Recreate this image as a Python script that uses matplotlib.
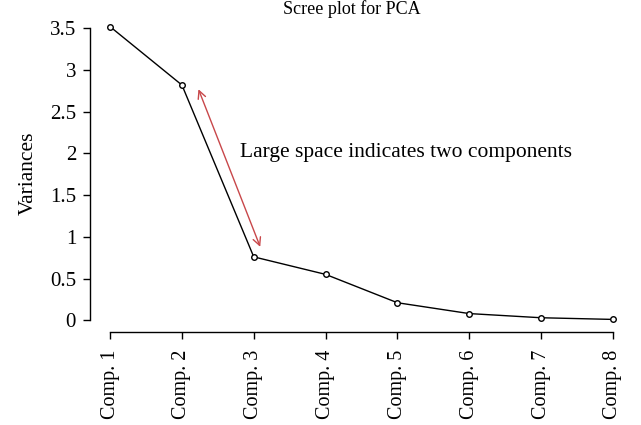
import matplotlib.pyplot as plt

components = ['Comp. 1', 'Comp. 2', 'Comp. 3', 'Comp. 4',
              'Comp. 5', 'Comp. 6', 'Comp. 7', 'Comp. 8']
variances = [3.52, 2.82, 0.76, 0.55, 0.21, 0.08, 0.03, 0.01]
yticks = [0, 0.5, 1, 1.5, 2, 2.5, 3, 3.5]
ytick_labels = ['0', '0.5', '1', '1.5', '2', '2.5', '3', '3.5']

plt.rcParams['font.family'] = ['Liberation Serif', 'DejaVu Serif']

fig = plt.figure(figsize=(6.41, 4.25), dpi=100)
ax = fig.add_axes([0.1404, 0.2188, 0.8471, 0.7459])

x = list(range(1, len(components) + 1))
ax.plot(x, variances, color='black', lw=1.0, marker='o', markersize=4,
        markerfacecolor='white', markeredgecolor='black', markeredgewidth=1.0)

# R-style detached axes
ax.set_xlim(0.72, 8.28)
ax.set_ylim(-0.141, 3.66)
for side in ['top', 'right']:
    ax.spines[side].set_visible(False)
ax.spines['left'].set_bounds(0, 3.5)
ax.spines['bottom'].set_bounds(1, 8)
ax.spines['left'].set_linewidth(1.0)
ax.spines['bottom'].set_linewidth(1.0)

ax.set_yticks(yticks)
ax.set_yticklabels(ytick_labels, fontsize=15)
ax.set_xticks(x)
ax.set_xticklabels(components, rotation=90, fontsize=14.5)
ax.tick_params(length=5, width=1.0, colors='black')
ax.tick_params(axis='y', pad=5)
ax.tick_params(axis='x', pad=8)

ax.set_ylabel('Variances', fontsize=15.5, labelpad=9)
fig.text(0.549, 0.979, 'Scree plot for PCA', ha='center', va='center', fontsize=13)

# gap between the second and third component
ax.annotate('', xy=(2.23, 2.77), xytext=(3.09, 0.88),
            arrowprops=dict(arrowstyle='<->', color='#c8474a', lw=1.0,
                            mutation_scale=14, shrinkA=0, shrinkB=0))
ax.text(2.81, 2.01, 'Large space indicates two components', fontsize=15.5,
        ha='left', va='center')

fig.savefig('out.png', dpi=100)
